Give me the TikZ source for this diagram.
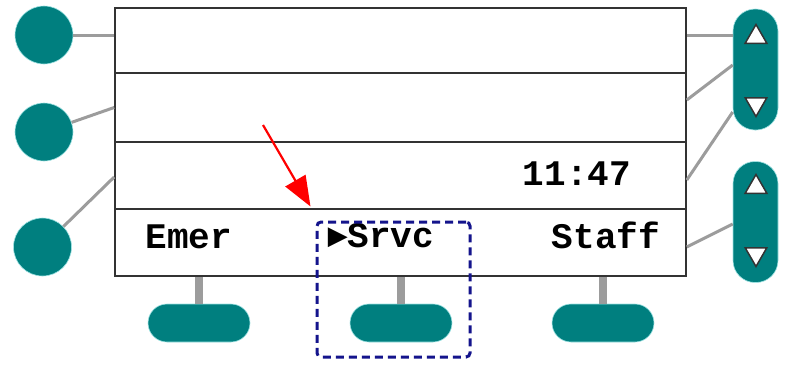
\documentclass[tikz,border=0pt]{standalone}
\usepackage{fontspec}
\usetikzlibrary{shapes.geometric,positioning,arrows.meta,calc}
\newfontfamily\lcdfont{Liberation Mono}
\newfontfamily\symfont{DejaVu Sans}
\definecolor{keyteal}{HTML}{007F7F}
\definecolor{keyglow}{HTML}{9EE3E3}
\definecolor{wiregray}{HTML}{9C9C9C}
\definecolor{framegray}{HTML}{333333}
\definecolor{focusblue}{HTML}{14148C}

\begin{document}
\begin{tikzpicture}[
    x=1pt, y=-1pt,
    row/.style ={
        rectangle,
        draw=framegray,
        line width=1.6pt,
        minimum width=571pt
    },
    linekey/.style ={
        circle,
        fill=keyteal,
        draw=keyglow,
        line width=0.6pt,
        minimum size=58pt
    },
    softkey/.style ={
        rectangle,
        rounded corners=19pt,
        fill=keyteal,
        draw=keyglow,
        line width=0.6pt,
        minimum width=102pt,
        minimum height=38pt
    },
    scroll/.style ={
        rectangle,
        rounded corners=22pt,
        fill=keyteal,
        draw=keyglow,
        line width=0.6pt,
        minimum width=45pt,
        minimum height=121pt
    },
    tri/.style ={
        regular polygon,
        regular polygon sides=3,
        fill=white,
        draw=framegray,
        line width=1.5pt,
        inner sep=0pt,
        minimum size=25pt
    },
    wire/.style ={wiregray, line width=3pt},
    stem/.style ={wiregray, line width=8pt},
    lbl/.style ={anchor=base, inner sep=0pt, font=\lcdfont\bfseries\fontsize{36}{36}\selectfont},
    focusbox/.style ={
        rectangle,
        draw=focusblue,
        line width=3pt,
        dash pattern=on 8pt off 5pt,
        rounded corners=4pt,
        minimum width=153pt,
        minimum height=135pt
    }
    ]
    \fill[white] (0,0) rectangle (785,370);
    \useasboundingbox (0,0) rectangle (785,370);

    % display rows
    \node[row, minimum height=65pt] (row1) at (400.5,40.5) {};
    \node[row, minimum height=69pt] (row2) at (400.5,107.5) {};
    \node[row, minimum height=67pt] (row3) at (400.5,175.5) {};
    \node[row, minimum height=67pt] (row4) at (400.5,242.5) {};

    % line keys on the left
    \node[linekey] (lk1) at (44,35) {};
    \node[linekey] (lk2) at (44,132) {};
    \node[linekey] (lk3) at (42.5,247) {};
    \draw[wire] (lk1) -- (lk1 -| row1.west);
    \draw[wire] (lk2) -- (row2.west);
    \draw[wire] (lk3) -- ($(row3.west)+(0,1.5)$);

    % scroll keys on the right
    \node[scroll] (scrollA) at (755.5,69.5) {};
    \node[scroll] (scrollB) at (755.5,222) {};
    \node[tri] (upA) at (756,37) {};
    \node[tri, shape border rotate=180] (downA) at (756,104) {};
    \node[tri] (upB) at (756,187) {};
    \node[tri, shape border rotate=180] (downB) at (756,254) {};
    \draw[wire] ($(row1.east)+(0,-5.5)$) -- ($(scrollA.west)+(0,-34.5)$);
    \draw[wire] ($(row2.east)+(0,-7.5)$) -- ($(scrollA.west)+(0,-4.5)$);
    \draw[wire] ($(row3.east)+(0,4.5)$) -- ($(scrollA.west)+(0,42.5)$);
    \draw[wire] ($(row4.east)+(0,4.5)$) -- ($(scrollB.west)+(0,2)$);

    % soft keys
    \node[softkey] (sk1) at (199,323) {};
    \node[softkey] (sk2) at (401,323) {};
    \node[softkey] (sk3) at (603,323) {};
    \foreach \k in {sk1,sk2,sk3}
        \draw[stem] (row4.south -| \k) -- (\k.north);

    % screen text
    \node[lbl] (clock) at (577,185) {11:47};
    \node[lbl] (emer) at (189,248) {Emer};
    \node[lbl] (srvc) at (381,247) {\raisebox{2.5pt}{\symfont\fontsize{26}{26}\selectfont ▶}Srvc};
    \node[lbl] (staff) at (606,248) {Staff};

    \node[focusbox] (focus) at (393.5,289.5) {};
    \coordinate (ptrtail) at (263,125);
    \coordinate (ptrtip) at ($(focus.north west)+(-5,-14)$);
    \draw[red, line width=2.2pt, -{Triangle[length=30pt,width=23pt]}] (ptrtail) -- (ptrtip);
\end{tikzpicture}
\end{document}
